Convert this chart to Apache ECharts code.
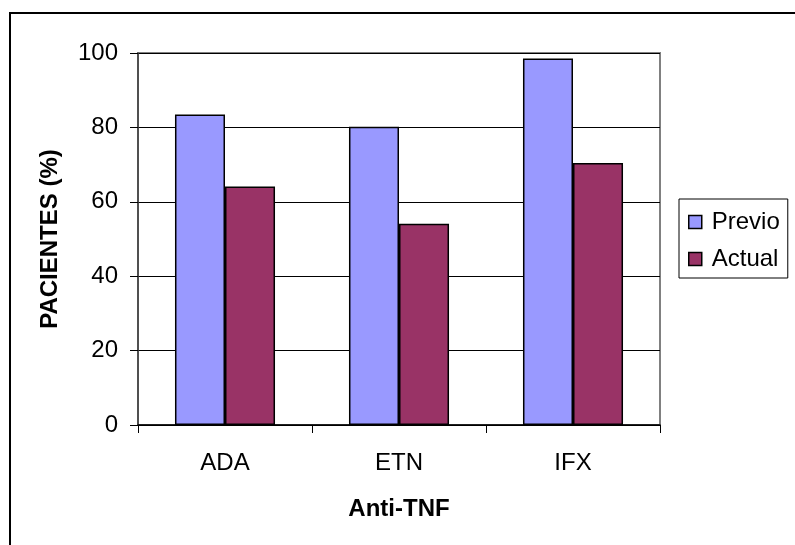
<!DOCTYPE html>
<html>
<head>
<meta charset="utf-8">
<script src="https://cdn.jsdelivr.net/npm/echarts@6/dist/echarts.min.js"></script>
<style>
  html, body { margin: 0; padding: 0; background: #fff; }
  #chart { width: 795px; height: 545px; }
</style>
</head>
<body>
<div id="chart"></div>
<script>
// Anti-TNF treatments and the share of patients, before and now
const categories = ['ADA', 'ETN', 'IFX'];
const previo = [83.5, 80.2, 98.5];
const actual = [64.1, 54.1, 70.4];
const seriesNames = ['Previo', 'Actual'];
const yTicks = { min: 0, max: 100, interval: 20 };

const font = 'Liberation Sans, Arial, sans-serif';
const chart = echarts.init(document.getElementById('chart'), null, { renderer: 'canvas' });

chart.setOption({
  animation: false,
  backgroundColor: '#ffffff',
  textStyle: { fontFamily: font },
  graphic: [{
    type: 'rect',
    shape: { x: 10, y: 13, width: 800, height: 560 },
    style: { fill: 'none', stroke: '#000', lineWidth: 2 },
    silent: true,
    z: 0
  }],
  grid: {
    left: 138, right: 135, top: 53, bottom: 120,
    show: true, borderColor: '#808080', borderWidth: 2, backgroundColor: '#fff'
  },
  legend: {
    orient: 'vertical',
    left: 679, top: 199,
    padding: [11, 8, 7, 9],
    itemGap: 13,
    itemWidth: 13, itemHeight: 13,
    icon: 'rect',
    backgroundColor: '#fff',
    borderColor: '#000', borderWidth: 1,
    textStyle: { fontFamily: font, fontSize: 24, color: '#000', padding: [0, 0, 0, 5] },
    data: seriesNames.map(n => ({ name: n, itemStyle: { borderColor: '#000', borderWidth: 1.5 } }))
  },
  xAxis: {
    type: 'category',
    data: categories,
    name: 'Anti-TNF',
    nameLocation: 'middle',
    nameGap: 72,
    nameTextStyle: { fontFamily: font, fontSize: 24, fontWeight: 'bold', color: '#000' },
    axisLine: { lineStyle: { color: '#000', width: 1.5 } },
    axisTick: { show: true, length: 8, lineStyle: { color: '#000' } },
    axisLabel: { margin: 26, fontFamily: font, fontSize: 24, color: '#000' }
  },
  yAxis: {
    type: 'value',
    min: yTicks.min, max: yTicks.max, interval: yTicks.interval,
    name: 'PACIENTES (%)',
    nameLocation: 'middle',
    nameGap: 76,
    nameTextStyle: { fontFamily: font, fontSize: 24, fontWeight: 'bold', color: '#000' },
    axisLine: { show: true, lineStyle: { color: '#404040', width: 1.5 } },
    axisTick: { show: true, length: 8, lineStyle: { color: '#000' } },
    axisLabel: { margin: 20, fontFamily: font, fontSize: 24, color: '#000' },
    splitLine: { show: true, lineStyle: { color: '#000', width: 1 } }
  },
  series: [
    {
      name: seriesNames[0], type: 'bar', data: previo,
      barGap: 0, barCategoryGap: '42.5%',
      itemStyle: { color: '#9999FF', borderColor: '#000', borderWidth: 1.5 }
    },
    {
      name: seriesNames[1], type: 'bar', data: actual,
      barGap: 0, barCategoryGap: '42.5%',
      itemStyle: { color: '#993366', borderColor: '#000', borderWidth: 1.5 }
    }
  ]
});
</script>
</body>
</html>
